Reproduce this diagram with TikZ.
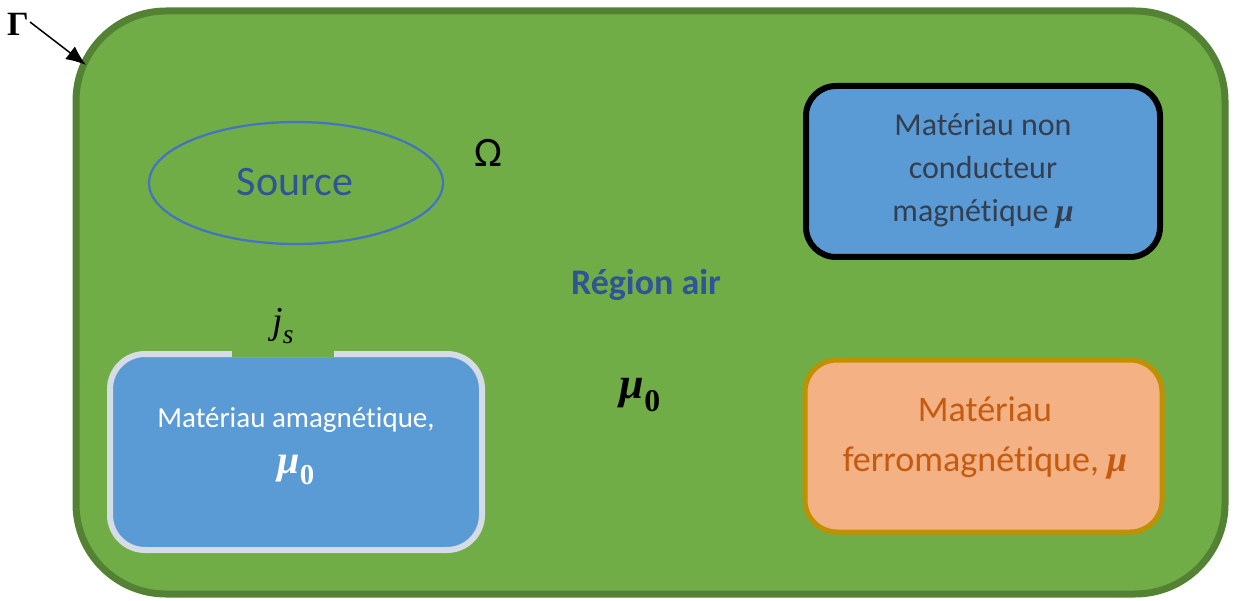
\documentclass[tikz,border=0pt]{standalone}
\usepackage{fontspec}
\setmainfont[Ligatures=NoCommon]{Carlito}
\newfontfamily\mserif{Liberation Serif}
\newcommand{\mysub}[1]{\raisebox{-0.28em}{\scalebox{0.72}{#1}}}
\newcommand{\bmu}{{\mserif\bfseries\itshape μ}}
\usetikzlibrary{shapes.geometric,arrows.meta}
\definecolor{airfill}{HTML}{70AD47}
\definecolor{airdraw}{HTML}{548235}
\definecolor{bluefill}{HTML}{5B9BD5}
\definecolor{ellblue}{HTML}{4472C4}
\definecolor{srcblue}{HTML}{2F5597}
\definecolor{slate}{HTML}{333F50}
\definecolor{orfill}{HTML}{F4B183}
\definecolor{ordraw}{HTML}{BF9000}
\definecolor{ortext}{HTML}{C55A11}
\definecolor{lgray}{HTML}{D6DCE5}
\tikzset{
  boxbase/.style={rectangle, inner sep=0pt, outer sep=0pt},
  txt/.style={inner sep=0pt, align=center},
}
\begin{document}
\begin{tikzpicture}[x=1pt,y=-1pt]
\useasboundingbox (0,0) rectangle (1236,601);
% outer domain
\node[boxbase, draw=airdraw, fill=airfill, line width=7pt, rounded corners=90pt,
      minimum width=1149pt, minimum height=583pt] (omega) at (650.5,302.5) {};
% source ellipse
\node[ellipse, draw=ellblue, line width=2.2pt, minimum width=294pt, minimum height=122pt,
      inner sep=0pt] (source) at (296,183) {};
\node[txt, text=srcblue, font=\fontsize{42}{50}\selectfont] (srctxt) at (295,182) {Source};
% Omega
\node[txt, font=\fontsize{42}{50}\selectfont] (om) at (488,153) {Ω};
% region air
\node[txt, text=srcblue, font=\bfseries\fontsize{36}{44}\selectfont] (air) at (646,285) {Région air};
\node[txt, font=\fontsize{44}{48}\selectfont] (mu0) at (640,395) {\bmu\mysub{\mserif\bfseries 0}};
% top right box
\node[boxbase, draw=black, fill=bluefill, line width=6pt, rounded corners=30pt,
      minimum width=354pt, minimum height=171pt] (nc) at (983,171.5) {};
\node[txt, text=slate, font=\fontsize{32}{43}\selectfont] (nctxt) at (983,171)
  {Matériau non\\conducteur\\magnétique \bmu};
% bottom right box
\node[boxbase, draw=ordraw, fill=orfill, line width=5pt, rounded corners=32pt,
      minimum width=357pt, minimum height=172pt] (fe) at (983.5,446) {};
\node[txt, text=ortext, font=\fontsize{36}{50}\selectfont] (fetxt) at (985,438)
  {Matériau\\ferromagnétique, \bmu};
% bottom left box
\node[boxbase, draw=lgray, fill=bluefill, line width=6pt, rounded corners=35pt,
      minimum width=372pt, minimum height=196pt] (am) at (296,452) {};
\fill[airfill] (232,350) rectangle (334,357.2);
\node[txt, text=white, font=\fontsize{29}{36}\selectfont] (amtxt) at (296,420) {Matériau amagnétique,};
\node[txt, text=white, font=\fontsize{40}{44}\selectfont] (ammu) at (296,470) {\bmu\mysub{\mserif\bfseries 0}};
% js
\node[txt, font=\fontsize{38}{44}\selectfont] (js) at (283,326) {{\mserif\itshape j}\mysub{\mserif\itshape s}};
% Gamma
\node[txt, font=\mserif\bfseries\fontsize{34}{40}\selectfont] (gamma) at (18,24) {Γ};
\coordinate (gt) at (86,65);
\draw[line width=1.5pt, -{Latex[length=20pt,width=16pt]}] ([xshift=1pt,yshift=2pt]gamma.east) -- (gt);
\end{tikzpicture}
\end{document}
